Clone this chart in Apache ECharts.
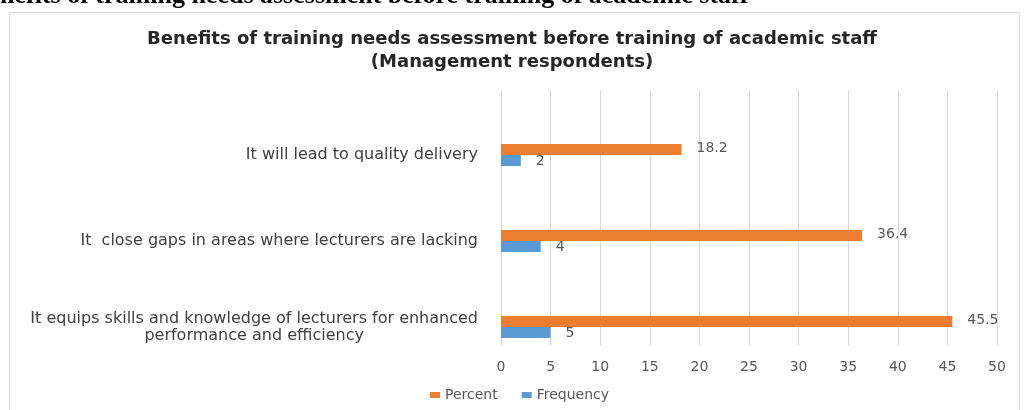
<!DOCTYPE html>
<html><head><meta charset="utf-8">
<script src="https://cdn.jsdelivr.net/npm/echarts@6/dist/echarts.min.js"></script>
<style>html,body{margin:0;padding:0;background:#fff}#c{width:1024px;height:410px}</style>
</head><body><div id="c"></div>
<script>
const categories = [
  'It equips skills and knowledge of lecturers for enhanced\nperformance and efficiency',
  'It  close gaps in areas where lecturers are lacking',
  'It will lead to quality delivery'
];
const percentValues = [45.5, 36.4, 18.2];
const frequencyValues = [5, 4, 2];
const xTicks = [0, 50, 5];
const titleLine1 = 'Benefits of training needs assessment before training of academic staff';
const titleLine2 = '(Management respondents)';
const headerText = 'nefits of training needs assessment before training of academic staff';

const chart = echarts.init(document.getElementById('c'));
const txt = '#404040';
const lblFont = 'DejaVu Sans';
chart.setOption({
  animation: false,
  graphic: [
    {type: 'rect', shape: {x: 9.5, y: 12.5, width: 1010, height: 410}, style: {fill: '#fff', stroke: '#d9d9d9', lineWidth: 1}, z: -10},
    {type: 'text', left: 0, top: -17, style: {text: headerText, font: 'bold 26px "Liberation Serif"', fill: '#000'}},
    {type: 'text', left: 'center', top: 30, style: {text: titleLine1, font: 'bold 18px "DejaVu Sans"', fill: '#262626', align: 'center'}},
    {type: 'text', left: 'center', top: 53, style: {text: titleLine2, font: 'bold 18px "DejaVu Sans"', fill: '#262626', align: 'center'}}
  ],
  legend: {
    data: ['Percent', 'Frequency'],
    bottom: 3, left: 425,
    itemWidth: 10, itemHeight: 6, itemGap: 24,
    icon: 'rect',
    textStyle: {color: '#595959', fontFamily: lblFont, fontSize: 14}
  },
  grid: [
    {left: 501, right: 27, top: 90, bottom: 65},
    {left: 501, right: 27, top: 112, height: 258}
  ],
  xAxis: [
    {gridIndex: 0, type: 'value', min: xTicks[0], max: xTicks[1], interval: xTicks[2],
     axisLine: {show: false}, axisTick: {show: false},
     splitLine: {lineStyle: {color: '#d9d9d9'}},
     axisLabel: {color: '#595959', fontFamily: lblFont, fontSize: 14, margin: 15}},
    {gridIndex: 1, type: 'value', min: xTicks[0], max: xTicks[1], show: false}
  ],
  yAxis: [
    {gridIndex: 0, type: 'category', data: ['a'], show: false},
    {gridIndex: 1, type: 'category', data: categories,
     axisLine: {show: false}, axisTick: {show: false}, splitLine: {show: false},
     axisLabel: {margin: 23, color: txt, fontFamily: lblFont, fontSize: 16, lineHeight: 17,
       formatter: function (v) { return v.split('\n').map(function (l) { return '{c|' + l + '}'; }).join('\n'); },
       rich: {c: {align: 'center', color: txt, fontFamily: lblFont, fontSize: 16, lineHeight: 17}}}}
  ],
  series: [
    {name: 'Percent', type: 'bar', xAxisIndex: 1, yAxisIndex: 1, data: percentValues,
     barWidth: 11, barGap: '0%', itemStyle: {color: '#ED7D31'},
     label: {show: true, position: 'right', distance: 15, offset: [0, -1], color: '#595959', fontFamily: lblFont, fontSize: 14}},
    {name: 'Frequency', type: 'bar', xAxisIndex: 1, yAxisIndex: 1, data: frequencyValues,
     barWidth: 11, barGap: '0%', itemStyle: {color: '#5B9BD5'},
     label: {show: true, position: 'right', distance: 15, offset: [0, 1], color: '#595959', fontFamily: lblFont, fontSize: 14}}
  ]
});
</script></body></html>
